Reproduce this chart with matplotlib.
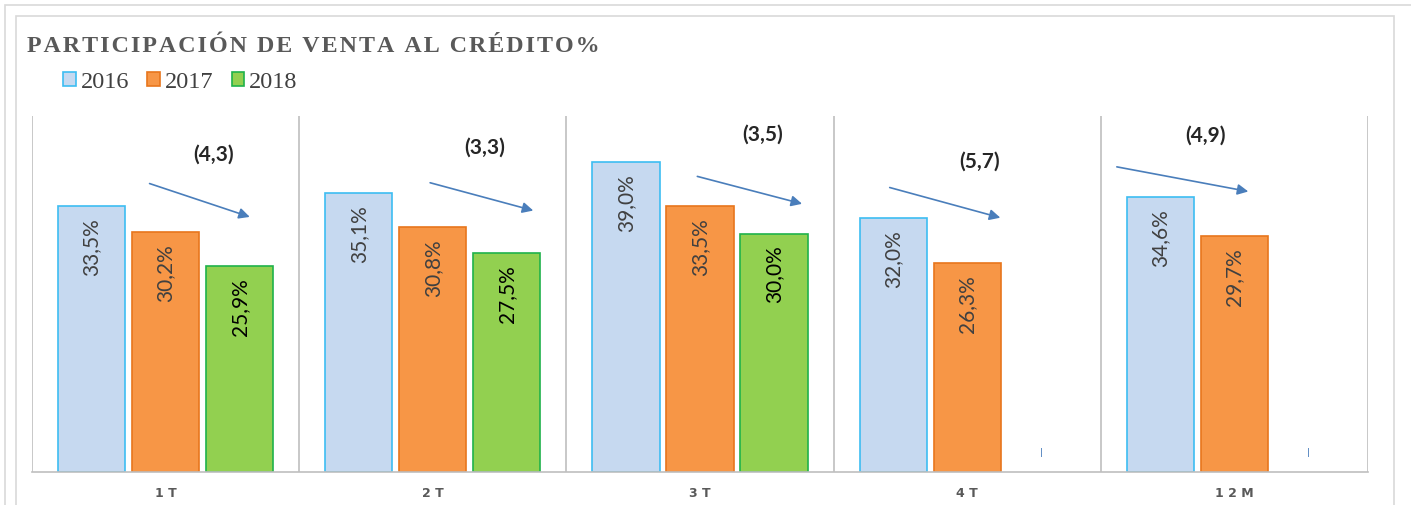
import matplotlib.pyplot as plt
import numpy as np
from matplotlib.patches import Rectangle

# data
categories = ["1T", "2T", "3T", "4T", "12M"]
tick_labels = ["1 T", "2 T", "3 T", "4 T", "1 2 M"]
v2016 = [33.5, 35.1, 39.0, 32.0, 34.6]
v2017 = [30.2, 30.8, 33.5, 26.3, 29.7]
v2018 = [25.9, 27.5, 30.0, 0.0, 0.0]
lbl2018 = ["25,9%", "27,5%", "30,0%", "-", "-"]
variation = ["(4,3)", "(3,3)", "(3,5)", "(5,7)", "(4,9)"]

# arrow start/end and text position, relative to category centre (x) and in % (y)
arrow_start = [(-0.06, 36.3), (-0.01, 36.4), (-0.01, 37.2), (-0.29, 35.8), (-0.44, 38.4)]
arrow_end = [(0.315, 32.1), (0.376, 32.9), (0.382, 33.75), (0.124, 32.0), (0.052, 35.3)]
text_pos = [(0.18, 40.0), (0.195, 40.9), (0.236, 42.6), (0.045, 39.2), (-0.11, 42.4)]

fmt = lambda v: f"{v:.1f}%".replace(".", ",")

fig = plt.figure(figsize=(14.11, 5.06), dpi=100)
ax = fig.add_axes([32 / 1411, 33 / 506, 1336 / 1411, 356 / 506])

x = np.arange(len(categories))
w = 0.251
off = 0.277
series = [
    (v2016, "2016", "#C6D9F0", "#3DBDF2", [fmt(v) for v in v2016], "#404040"),
    (v2017, "2017", "#F79646", "#E8761C", [fmt(v) for v in v2017], "#404040"),
    (v2018, "2018", "#92D050", "#1FB24A", lbl2018, "#000000"),
]
for i, (vals, name, fc, ec, labels, tc) in enumerate(series):
    xs = x + (i - 1) * off
    bars = ax.bar(xs, vals, width=w, color=fc, edgecolor=ec, linewidth=1.2, label=name)
    for b, xi, v, lab in zip(bars, xs, vals, labels):
        if v > 0:
            ax.text(xi, v - 1.4, lab, rotation=90, ha="center", va="top",
                    fontsize=15, color=tc, family="Lato")
        else:
            b.set_linewidth(0)
            ax.text(xi, 2.6, "|", ha="center", va="center",
                    fontsize=6, color="#4F81BD", family="DejaVu Sans", fontweight="bold")

for i in range(len(categories)):
    sx, sy = arrow_start[i]
    ex, ey = arrow_end[i]
    ax.annotate("", xy=(i + ex, ey), xytext=(i + sx, sy),
                arrowprops=dict(arrowstyle="-|>", color="#4A7EBB", lw=1.2,
                                mutation_scale=16, shrinkA=0, shrinkB=0))
    tx, ty = text_pos[i]
    ax.text(i + tx, ty, variation[i], ha="center", va="center", fontsize=15,
            color="#262626", family="Lato", fontweight="bold")

ax.set_xlim(-0.5, len(categories) - 0.5)
ax.set_ylim(0, 44.8)
ax.set_yticks([])
ax.set_xticks(x)
ax.set_xticklabels(tick_labels, fontsize=9, fontweight="bold", color="#595959", family="DejaVu Sans")
ax.tick_params(axis="x", length=0, pad=10)
for s in ["top", "right", "left"]:
    ax.spines[s].set_visible(False)
ax.spines["bottom"].set_color("#BFBFBF")
ax.spines["bottom"].set_linewidth(1.2)
for b in np.arange(-0.5, len(categories), 1.0):
    ax.axvline(b, color="#BFBFBF", lw=1.2, zorder=0)

# frames
fig.patches.append(Rectangle((5 / 1411, -0.1), 1.2, 1.1 - 6 / 506,
                             transform=fig.transFigure, fill=False, ec="#D9D9D9", lw=1.2))
fig.patches.append(Rectangle((16 / 1411, -0.1), 1378 / 1411, 1.1 - 17 / 506,
                             transform=fig.transFigure, fill=False, ec="#D9D9D9", lw=1.2))

title = "PARTICIPACIÓN DE VENTA AL CRÉDITO%"
fig.text(27 / 1411, 1 - 46 / 506, "\u200a".join(title),
         fontsize=17.3, fontweight="bold", color="#595959", family="Liberation Serif",
         va="center", ha="left")

leg = fig.legend(loc="center left", bbox_to_anchor=(63 / 1411, 1 - 83 / 506), ncol=3,
                 frameon=False, prop={"family": "Liberation Serif", "size": 17.5},
                 handlelength=0.53, handleheight=0.53, handletextpad=0.2, columnspacing=0.74,
                 borderaxespad=0, borderpad=0)
for t in leg.get_texts():
    t.set_color("#404040")

fig.savefig("out.png", dpi=100)
